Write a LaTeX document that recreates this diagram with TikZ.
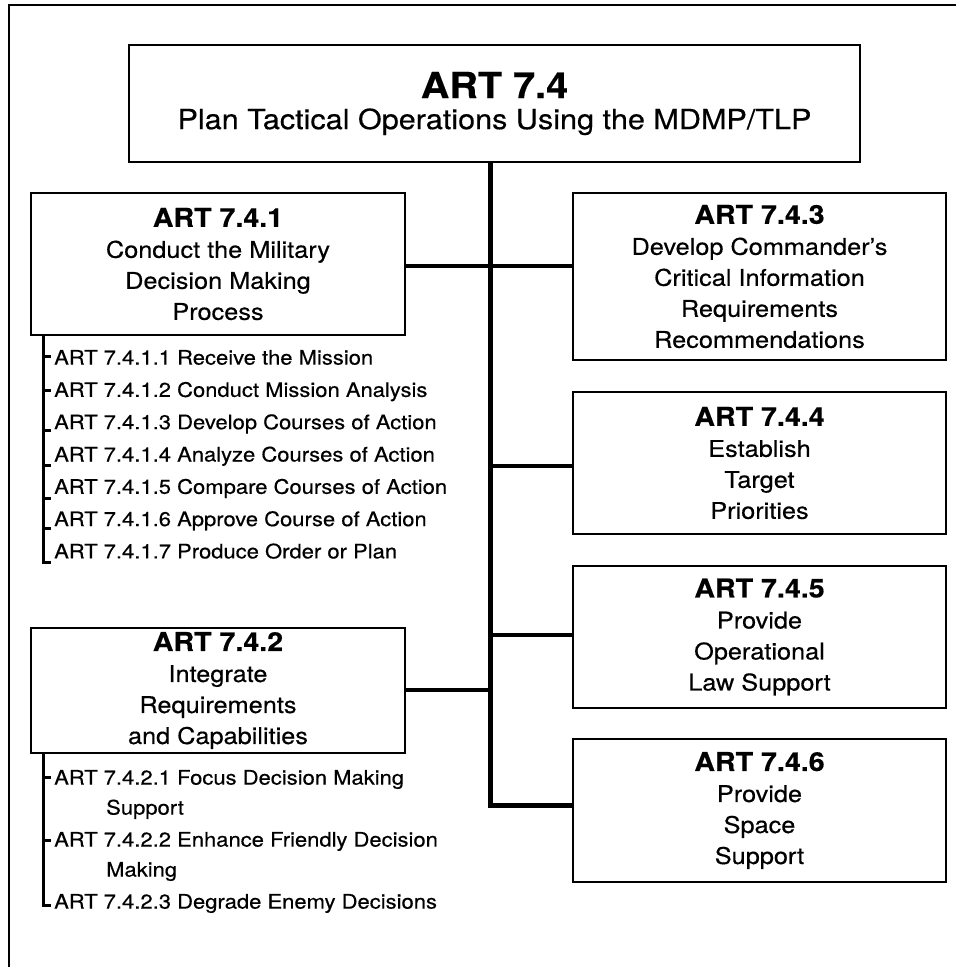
\documentclass[tikz,border=0pt]{standalone}
\usepackage{fontspec}
\setmainfont[FakeStretch=1.1,FakeBold=0.4]{TeX Gyre Heros}
\begin{document}
\begin{tikzpicture}[x=1pt,y=-1pt,
  box/.style={draw, line width=2.5pt, align=center, inner sep=0pt,
    font={\fontsize{23}{31}\selectfont}},
  trunk/.style={line width=5pt},
  conn/.style={line width=4.5pt},
  brk/.style={line width=3pt},
  item/.style={inner sep=0pt, anchor=base west, font={\fontsize{20}{30}\selectfont}}]
\useasboundingbox (0,0) rectangle (956,967);
\newcommand{\hdr}[1]{{\fontsize{26}{31}\selectfont\bfseries #1}}
% frame
\coordinate (fa) at (9,967);
\coordinate (fb) at (9,5);
\coordinate (fc) at (956,5);
\draw[line width=2.5pt] (fa) -- (fb) -- (fc);
% boxes
\node[box, minimum width=731pt, minimum height=117pt] (top) at (494.5,103.5)
  {{\fontsize{36}{40}\selectfont\bfseries ART 7.4}\\{\fontsize{27.8}{40}\selectfont Plan Tactical Operations Using the MDMP/TLP}};
\node[box, minimum width=374pt, minimum height=142pt] (b741) at (218,264)
  {\hdr{ART 7.4.1}\\Conduct the Military\\Decision Making\\Process};
\node[box, minimum width=374pt, minimum height=125pt] (b742) at (218,690.5)
  {\hdr{ART 7.4.2}\\Integrate\\Requirements\\and Capabilities};
\node[box, minimum width=373pt, minimum height=167pt] (b743) at (759.5,276.5)
  {\hdr{ART 7.4.3}\\Develop Commander's\\Critical Information\\Requirements\\Recommendations};
\node[box, minimum width=373pt, minimum height=142pt] (b744) at (759.5,463)
  {\hdr{ART 7.4.4}\\Establish\\Target\\Priorities};
\node[box, minimum width=373pt, minimum height=142pt] (b745) at (759.5,637)
  {\hdr{ART 7.4.5}\\Provide\\Operational\\Law Support};
\node[box, minimum width=373pt, minimum height=143pt] (b746) at (759.5,810.5)
  {\hdr{ART 7.4.6}\\Provide\\Space\\Support};
% connectors
\coordinate (tk) at (490,805);
\coordinate (y1) at (0,266);
\coordinate (y4) at (0,466);
\coordinate (y5) at (0,635);
\coordinate (y2) at (0,690);
\draw[trunk] (top.south -| tk) -- (tk) -- (b746.west |- tk);
\draw[conn] (b741.east |- y1) -- (b743.west |- y1);
\draw[conn] (tk |- y4) -- (b744.west |- y4);
\draw[conn] (tk |- y5) -- (b745.west |- y5);
\draw[conn] (b742.east |- y2) -- (tk |- y2);
% sub-list 7.4.1
\coordinate (k1) at (43,562);
\draw[brk] (b741.south -| k1) -- (k1) -- ++(8,0);
\foreach \yy in {356,390,430,465,498,528} \draw[brk] (43,\yy) -- ++(8,0);
\node[item] (s1) at (54,364.6) {ART 7.4.1.1 Receive the Mission};
\node[item] (s2) at (54,396.9) {ART 7.4.1.2 Conduct Mission Analysis};
\node[item] (s3) at (54,429.2) {ART 7.4.1.3 Develop Courses of Action};
\node[item] (s4) at (54,461.5) {ART 7.4.1.4 Analyze Courses of Action};
\node[item] (s5) at (54,493.8) {ART 7.4.1.5 Compare Courses of Action};
\node[item] (s6) at (54,526.1) {ART 7.4.1.6 Approve Course of Action};
\node[item] (s7) at (54,558.4) {ART 7.4.1.7 Produce Order or Plan};
% sub-list 7.4.2
\coordinate (k2) at (43,905);
\draw[brk] (b742.south -| k2) -- (k2) -- ++(8,0);
\foreach \yy in {777,840} \draw[brk] (43,\yy) -- ++(8,0);
\node[item] (t1) at (54,784.6) {ART 7.4.2.1 Focus Decision Making};
\node[item] (t1b) at (106,814.6) {Support};
\node[item] (t2) at (54,846.6) {ART 7.4.2.2 Enhance Friendly Decision};
\node[item] (t2b) at (106,876.6) {Making};
\node[item] (t3) at (54,908.6) {ART 7.4.2.3 Degrade Enemy Decisions};
\end{tikzpicture}
\end{document}
